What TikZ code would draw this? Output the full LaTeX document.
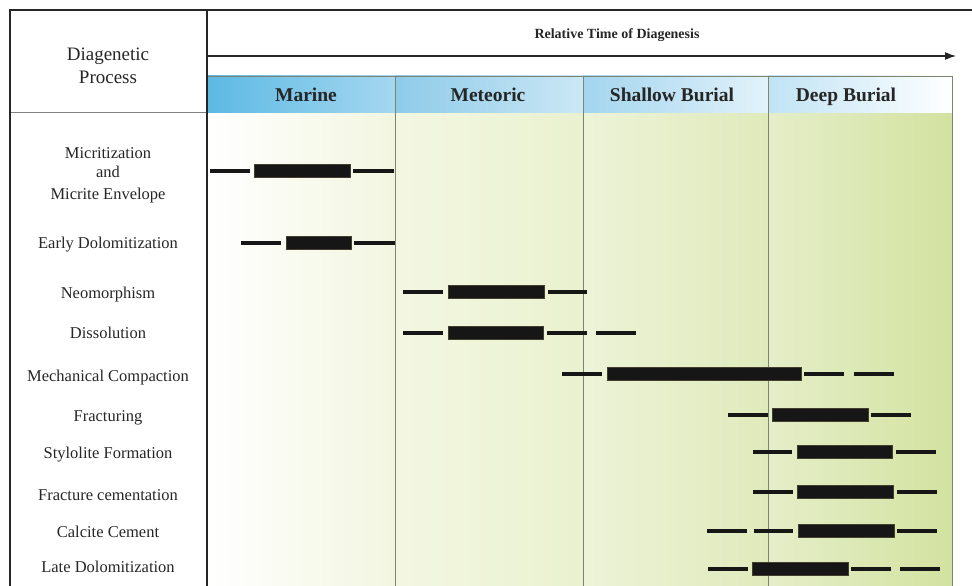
\documentclass[tikz,border=0pt]{standalone}
\usepackage{fontspec}
\setmainfont{Liberation Serif}
\usetikzlibrary{arrows.meta}
\definecolor{bAa}{HTML}{FFFFFF}\definecolor{bAb}{HTML}{F2F6E0}
\definecolor{bBa}{HTML}{F3F7E2}\definecolor{bBb}{HTML}{EAF1CF}
\definecolor{bCa}{HTML}{EDF3D8}\definecolor{bCb}{HTML}{DFEABB}
\definecolor{bDa}{HTML}{E5EEC9}\definecolor{bDb}{HTML}{D3E2A0}
\definecolor{hAa}{HTML}{5CB9E3}\definecolor{hAb}{HTML}{A5D7F0}
\definecolor{hBa}{HTML}{8ECBE9}\definecolor{hBb}{HTML}{CBE7F5}
\definecolor{hCa}{HTML}{A3D5EE}\definecolor{hCb}{HTML}{E2F2FA}
\definecolor{hDa}{HTML}{C0E3F4}\definecolor{hDb}{HTML}{FFFFFF}
\definecolor{gridc}{HTML}{7D8570}
\definecolor{barc}{HTML}{161616}
\newcommand\thinseg[3]{\draw[thinbar] (#1,#3) -- (#2,#3);}
\newcommand\thickseg[3]{\draw[thickbar] (#1,#3-6.5) rectangle (#2,#3+6.5);}
\begin{document}
\begin{tikzpicture}[x=1pt,y=-1pt,
  lab/.style={font=\fontsize{16.5}{20.5}\selectfont, align=center, text=black!85, inner sep=0pt, anchor=base},
  hdr/.style={font=\bfseries\fontsize{19.5}{22}\selectfont, text=black!85, inner sep=0pt, anchor=base},
  thinbar/.style={line width=3.5pt, draw=barc},
  thickbar/.style={fill=barc, draw=black!70!olive, line width=0.6pt},
  colline/.style={draw=gridc, line width=0.9pt},
]
\useasboundingbox (0,0) rectangle (972,586);
% body shading
\shade[left color=bAa, right color=bAb] (207,112) rectangle (395,586);
\shade[left color=bBa, right color=bBb] (395,112) rectangle (583,586);
\shade[left color=bCa, right color=bCb] (583,112) rectangle (768,586);
\shade[left color=bDa, right color=bDb] (768,112) rectangle (952,586);
% header shading
\shade[left color=hAa, right color=hAb] (207,76) rectangle (395,112);
\shade[left color=hBa, right color=hBb] (395,76) rectangle (583,112);
\shade[left color=hCa, right color=hCb] (583,76) rectangle (768,112);
\shade[left color=hDa, right color=hDb] (768,76) rectangle (952,112);
% grid lines
\draw[colline] (207,76) -- (952,76) -- (952,586);
\draw[colline] (395,76) -- (395,586);
\draw[colline] (583,76) -- (583,586);
\draw[colline] (768,76) -- (768,586);
\draw[draw=gray, line width=1pt] (10,112) -- (207,112);
% frame
\draw[line width=2.2pt, draw=black!85] (10,586) -- (10,10) -- (972,10);
\draw[line width=2.6pt, draw=black!85] (207,10) -- (207,586);
% time arrow
\coordinate (ta) at (207,56);
\coordinate (tb) at (956,56);
\draw[line width=1.2pt, draw=black!85, -{Latex[length=11pt,width=8pt]}] (ta) -- (tb);
\node[font=\bfseries\fontsize{14}{16}\selectfont, text=black!85, inner sep=0pt, anchor=base] (rt) at (617,39) {Relative Time of Diagenesis};
\node[font=\fontsize{19}{20}\selectfont, text=black!85, inner sep=0pt, anchor=base] (dp1) at (108,61) {Diagenetic};
\node[font=\fontsize{19}{20}\selectfont, text=black!85, inner sep=0pt, anchor=base] (dp2) at (108,84) {Process};
% header labels
\node[hdr] (hm) at (306,101) {Marine};
\node[hdr] (hme) at (488,101) {Meteoric};
\node[hdr] (hs) at (672,101) {Shallow Burial};
\node[hdr] (hd) at (846,101) {Deep Burial};
% row labels
\node[lab] (l1a) at (108,158) {Micritization};
\node[lab] (l1b) at (108,177) {and};
\node[lab] (l1c) at (108,199) {Micrite Envelope};
\node[lab] (l2) at (108,248) {Early Dolomitization};
\node[lab] (l3) at (108,298) {Neomorphism};
\node[lab] (l4) at (108,338) {Dissolution};
\node[lab] (l5) at (108,381) {Mechanical Compaction};
\node[lab] (l6) at (108,421) {Fracturing};
\node[lab] (l7) at (108,458) {Stylolite Formation};
\node[lab] (l8) at (108,500) {Fracture cementation};
\node[lab] (l9) at (108,537) {Calcite Cement};
\node[lab] (l10) at (108,572) {Late Dolomitization};
% bars
\thinseg{210}{250}{171}\thickseg{254}{350}{171}\thinseg{353}{394}{171}
\thinseg{241}{281}{243}\thickseg{286}{351}{243}\thinseg{354}{395}{243}
\thinseg{403}{443}{292}\thickseg{448}{544}{292}\thinseg{548}{587}{292}
\thinseg{403}{443}{333}\thickseg{448}{543}{333}\thinseg{547}{587}{333}\thinseg{596}{636}{333}
\thinseg{562}{602}{374}\thickseg{607}{801}{374}\thinseg{804}{844}{374}\thinseg{854}{894}{374}
\thinseg{728}{768}{415}\thickseg{772}{868}{415}\thinseg{871}{911}{415}
\thinseg{753}{792}{452}\thickseg{797}{892}{452}\thinseg{896}{936}{452}
\thinseg{753}{793}{492}\thickseg{797}{893}{492}\thinseg{897}{937}{492}
\thinseg{707}{747}{531}\thinseg{754}{793}{531}\thickseg{798}{894}{531}\thinseg{897}{937}{531}
\thinseg{708}{748}{569}\thickseg{752}{848}{569}\thinseg{851}{891}{569}\thinseg{900}{940}{569}
\end{tikzpicture}
\end{document}
